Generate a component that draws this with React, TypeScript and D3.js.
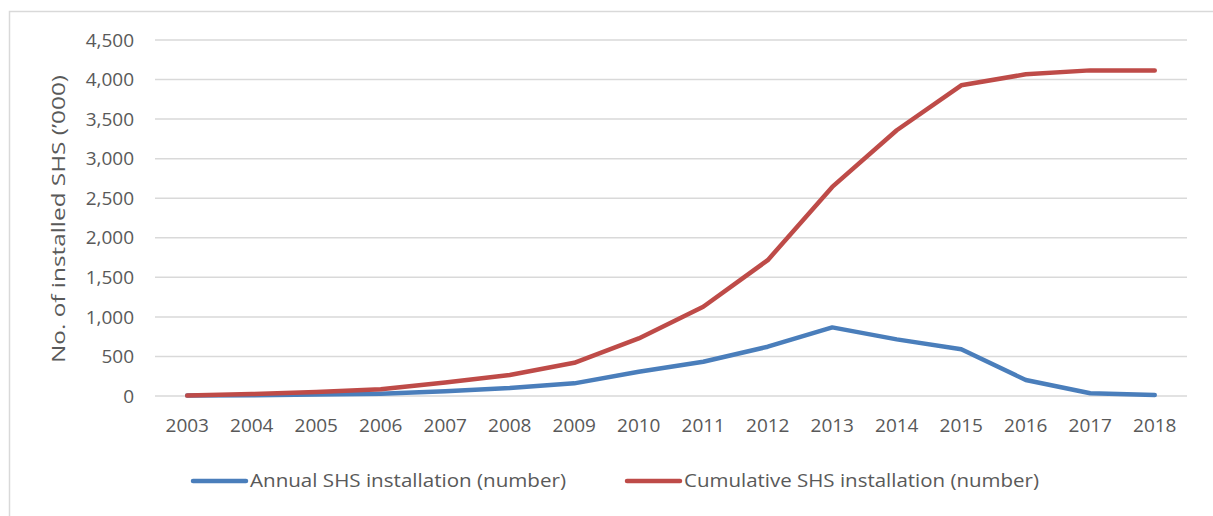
import React from "react";
import * as d3 from "d3";

// Solar home system installations, thousands of units
const years: string[] = [
  "2003", "2004", "2005", "2006", "2007", "2008", "2009", "2010",
  "2011", "2012", "2013", "2014", "2015", "2016", "2017", "2018",
];
const annual: number[] = [5, 10, 18, 30, 60, 100, 160, 307, 433, 623, 867, 716, 590, 202, 34, 13];
const cumulative: number[] = [5, 25, 50, 85, 170, 265, 420, 728, 1128, 1717, 2643, 3359, 3927, 4066, 4116, 4116];
const yTicks: number[] = [0, 500, 1000, 1500, 2000, 2500, 3000, 3500, 4000, 4500];

const seriesNames: string[] = ["Annual SHS installation (number)", "Cumulative SHS installation (number)"];
const seriesColors: string[] = ["#4a7ebb", "#be4b48"];

const W = 1213;
const H = 516;
const FONT = "'Open Sans', 'Liberation Sans', sans-serif";
const TEXT = "#595959";

export default function App() {
  const x = d3.scaleBand<string>().domain(years).range([155, 1187]).paddingInner(0).paddingOuter(0);
  const cx = (yr: string) => (x(yr) ?? 0) + x.bandwidth() / 2;
  const y = d3.scaleLinear().domain([0, 4500]).range([396, 40]);
  const fmt = d3.format(",");

  const line = d3
    .line<number>()
    .x((_, i) => cx(years[i]))
    .y((v) => y(v));

  const series = [annual, cumulative];

  return (
    <svg
      width={W}
      height={H}
      style={{ position: "absolute", left: 0, top: 0, background: "#fff" }}
    >
      {/* chart frame */}
      <path d={`M9.5,${H} L9.5,11.5 L${W},11.5`} fill="none" stroke="#d9d9d9" strokeWidth={1.5} />

      {/* horizontal gridlines */}
      {yTicks.map((t) => (
        <line key={`g${t}`} x1={155} x2={1187} y1={y(t)} y2={y(t)} stroke="#d9d9d9" strokeWidth={1.5} />
      ))}

      {/* y tick labels */}
      {yTicks.map((t) => (
        <text
          key={`yl${t}`}
          x={134}
          y={y(t)}
          dy="0.35em"
          textAnchor="end"
          fontFamily={FONT}
          fontSize={19}
          fill={TEXT}
        >
          {fmt(t)}
        </text>
      ))}

      {/* x tick labels */}
      {years.map((yr) => (
        <text
          key={`xl${yr}`}
          x={cx(yr)}
          y={425}
          dy="0.35em"
          textAnchor="middle"
          fontFamily={FONT}
          fontSize={19}
          fill={TEXT}
        >
          {yr}
        </text>
      ))}

      {/* y axis title */}
      <text
        transform="translate(58,219) rotate(-90)"
        textAnchor="middle"
        dy="0.35em"
        fontFamily={FONT}
        fontSize={19}
        fill={TEXT}
        textLength={288}
        lengthAdjust="spacingAndGlyphs"
      >
        No. of installed SHS (’000)
      </text>

      {/* series lines */}
      {series.map((s, i) => (
        <path
          key={`s${i}`}
          d={line(s) ?? ""}
          fill="none"
          stroke={seriesColors[i]}
          strokeWidth={4.5}
          strokeLinejoin="round"
          strokeLinecap="round"
        />
      ))}

      {/* legend */}
      {seriesNames.map((name, i) => {
        const lx = i === 0 ? 193 : 627;
        const tw = i === 0 ? 316 : 355;
        return (
          <g key={`lg${i}`}>
            <line x1={lx} x2={lx + 53} y1={481} y2={481} stroke={seriesColors[i]} strokeWidth={4.5} strokeLinecap="round" />
            <text
              x={lx + 57}
              y={481}
              dy="0.35em"
              fontFamily={FONT}
              fontSize={18}
              fill={TEXT}
              textLength={tw}
              lengthAdjust="spacingAndGlyphs"
            >
              {name}
            </text>
          </g>
        );
      })}
    </svg>
  );
}
